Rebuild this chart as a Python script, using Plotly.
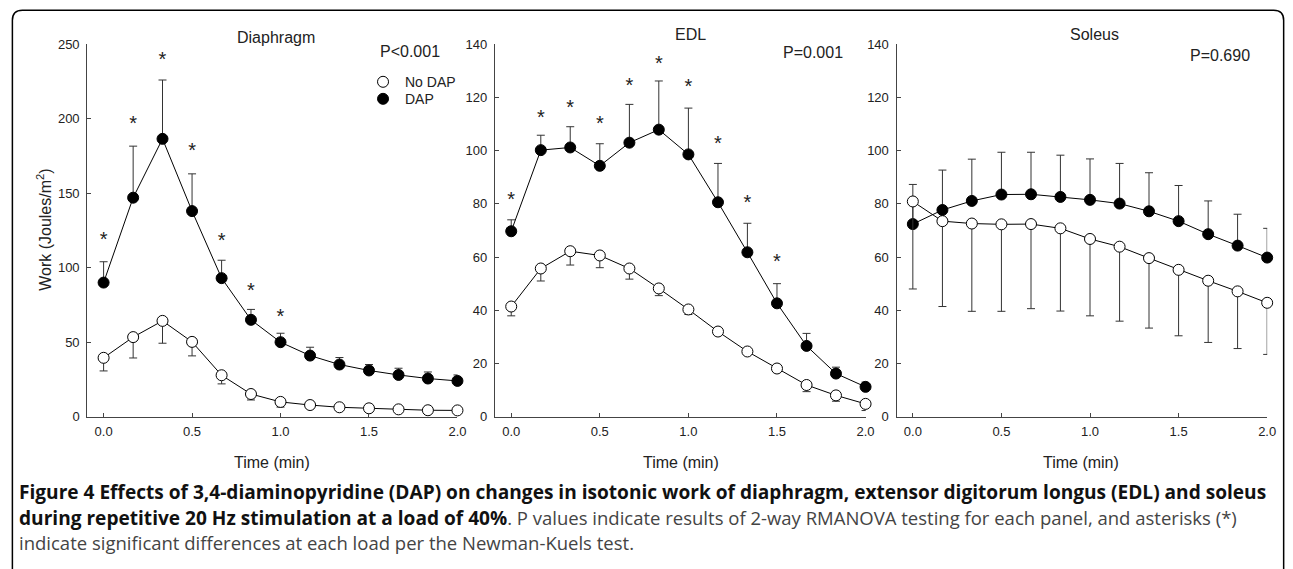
import plotly.graph_objects as go

W, H = 1293, 569

# ---------------- data ----------------
time_min = [0.0, 0.167, 0.333, 0.5, 0.667, 0.833, 1.0, 1.167, 1.333, 1.5, 1.667, 1.833, 2.0]

dia_dap = [90, 147, 186.5, 138, 93, 65, 50, 41, 35, 31, 28, 25.6, 24]
dia_dap_err = [14, 34.6, 39.5, 25, 12, 7, 6, 5.6, 4.7, 4, 4.5, 4.4, 4]
dia_nodap = [39.5, 53.4, 64.3, 50.2, 27.8, 15.2, 9.9, 7.8, 6.3, 5.6, 4.9, 4.3, 4.2]
dia_nodap_err = [8.8, 14, 15, 9.4, 5.8, 4, 3.5, 2, 1.5, 1.5, 1.2, 1, 1]
dia_star_x = [0.0, 0.167, 0.333, 0.5, 0.667, 0.833, 1.0]
dia_star_y = [118, 196, 238.5, 177.5, 117.5, 83.5, 66.5]

edl_dap = [69.7, 100.2, 101.2, 94.3, 103, 107.9, 98.6, 80.6, 61.8, 42.6, 26.6, 16.2, 11.2]
edl_dap_err = [4.3, 5.6, 7.8, 8.3, 14.4, 18.3, 17.4, 14.6, 10.9, 7.4, 4.7, 2.4, 1.8]
edl_nodap = [41.4, 55.7, 62.2, 60.6, 55.7, 48.2, 40.3, 32, 24.5, 18.1, 11.9, 8, 4.8]
edl_nodap_err = [3.5, 4.7, 5.2, 4.6, 4, 2.7, 1.9, 1, 1, 1, 2.5, 2.2, 2.5]
edl_star_x = [0.0, 0.167, 0.333, 0.5, 0.667, 0.833, 1.0, 1.167, 1.333, 1.5]
edl_star_y = [81, 112, 115.7, 109.8, 124.1, 132.1, 123.7, 102.3, 80, 57.7]

sol_dap = [72.4, 77.7, 81.1, 83.5, 83.6, 82.6, 81.5, 80.1, 77.2, 73.5, 68.6, 64.3, 59.8]
sol_dap_err = [14.9, 15, 15.7, 15.9, 15.8, 15.7, 15.4, 15.1, 14.5, 13.4, 12.5, 11.8, 11]
sol_nodap = [80.9, 73.5, 72.6, 72.3, 72.4, 70.8, 66.8, 63.9, 59.6, 55.2, 51.1, 47.1, 42.8]
sol_nodap_err = [32.9, 32.1, 33, 32.7, 31.8, 31.1, 28.9, 28, 26.3, 24.8, 23.2, 21.5, 19.4]

panel_titles = ["Diaphragm", "EDL", "Soleus"]
p_values = ["P<0.001", "P=0.001", "P=0.690"]
y_ranges = [[0, 250], [0, 140], [0, 140]]
y_ticks = [[0, 50, 100, 150, 200, 250], [0, 20, 40, 60, 80, 100, 120, 140], [0, 20, 40, 60, 80, 100, 120, 140]]
x_ticks = [0.0, 0.5, 1.0, 1.5, 2.0]
x_ticklabels = ["0.0", "0.5", "1.0", "1.5", "2.0"]
series_names = ["No DAP", "DAP"]
series_fill = ["white", "black"]

# ---------------- layout helpers ----------------
# target pixel (as seen in the final picture) -> paper coordinate,
# compensating for the small rescaling applied when the page is photographed
def px(x):
    return ((x + 1.4) / 0.994) / W

def py(y):
    return 1 - (y / 0.9726 - 8) / H

FONT = "Liberation Sans, Arial, sans-serif"
INK = "#222222"
AX = "#444444"

x_domains = [(86, 456.5), (494, 865), (896, 1267)]
y_domain = (py(417), py(45))

fig = go.Figure()

panels = [
    (dia_dap, dia_dap_err, dia_nodap, dia_nodap_err, dia_star_x, dia_star_y),
    (edl_dap, edl_dap_err, edl_nodap, edl_nodap_err, edl_star_x, edl_star_y),
    (sol_dap, sol_dap_err, sol_nodap, sol_nodap_err, [], []),
]

for i, (dap, dap_e, nod, nod_e, sx, sy) in enumerate(panels):
    xa = "x" if i == 0 else f"x{i+1}"
    ya = "y" if i == 0 else f"y{i+1}"
    zeros = [0] * len(time_min)
    fig.add_trace(go.Scatter(
        x=time_min, y=dap, xaxis=xa, yaxis=ya, mode="lines+markers",
        line=dict(color="black", width=1),
        marker=dict(symbol="circle", size=11, color="black", line=dict(color="black", width=1)),
        error_y=dict(type="data", symmetric=False, array=dap_e, arrayminus=zeros,
                     width=4, thickness=1, color="#333333"),
        showlegend=False, cliponaxis=False, name=series_names[1]))
    fig.add_trace(go.Scatter(
        x=time_min, y=nod, xaxis=xa, yaxis=ya, mode="lines+markers",
        line=dict(color="black", width=1),
        marker=dict(symbol="circle", size=11, color="white", line=dict(color="black", width=1)),
        error_y=dict(type="data", symmetric=False, array=zeros, arrayminus=nod_e,
                     width=4, thickness=1, color="#333333"),
        showlegend=False, cliponaxis=False, name=series_names[0]))
    if sx:
        fig.add_trace(go.Scatter(
            x=sx, y=sy, xaxis=xa, yaxis=ya, mode="text", text=["*"] * len(sx),
            textposition="middle center", textfont=dict(family=FONT, size=20, color="#222222"),
            showlegend=False, cliponaxis=False, hoverinfo="skip"))

axis_common = dict(showline=True, linecolor=AX, linewidth=1.2, ticks="inside", ticklen=4,
                   tickcolor=AX, tickwidth=1, showgrid=False, zeroline=False,
                   tickfont=dict(family=FONT, size=13, color=INK))

for i in range(3):
    xkey = "xaxis" if i == 0 else f"xaxis{i+1}"
    ykey = "yaxis" if i == 0 else f"yaxis{i+1}"
    xd = x_domains[i]
    fig.update_layout(**{
        xkey: dict(domain=[px(xd[0]), px(xd[1])], range=[-0.092, 2.0], anchor="y" if i == 0 else f"y{i+1}",
                   tickvals=x_ticks, ticktext=x_ticklabels, ticklabelstandoff=3, **axis_common),
        ykey: dict(domain=list(y_domain), range=y_ranges[i], anchor="x" if i == 0 else f"x{i+1}",
                   tickvals=y_ticks[i], ticklabelstandoff=4, **axis_common),
    })

annotations = []
shapes = []
title_pos = [(275, 38), (690, 35), (1094, 35)]
p_pos = [(409, 52), (812, 53), (1220, 56)]
xt_pos = [271, 680, 1081]
for i in range(3):
    annotations.append(dict(x=px(title_pos[i][0]), y=py(title_pos[i][1]), xref="paper", yref="paper",
                            text=panel_titles[i], showarrow=False, xanchor="center", yanchor="middle",
                            font=dict(family=FONT, size=16, color=INK)))
    annotations.append(dict(x=px(p_pos[i][0]), y=py(p_pos[i][1]), xref="paper", yref="paper",
                            text=p_values[i], showarrow=False, xanchor="center", yanchor="middle",
                            font=dict(family=FONT, size=16, color=INK)))
    annotations.append(dict(x=px(xt_pos[i]), y=py(463), xref="paper", yref="paper",
                            text="Time (min)", showarrow=False, xanchor="center", yanchor="middle",
                            font=dict(family=FONT, size=16, color=INK)))

annotations.append(dict(x=px(43), y=py(230), xref="paper", yref="paper", textangle=-90,
                        text="Work (Joules/m<sup>2</sup>)", showarrow=False, xanchor="center", yanchor="middle",
                        font=dict(family=FONT, size=16, color=INK)))

# manual legend (Diaphragm panel)
leg_y = [82.5, 99.5]
for name, fill, yy in zip(series_names, series_fill, leg_y):
    shapes.append(dict(type="circle", xref="paper", yref="paper", xsizemode="pixel", ysizemode="pixel",
                       xanchor=px(382), yanchor=py(yy), x0=-5.5, x1=5.5, y0=-5.5, y1=5.5,
                       fillcolor=fill, line=dict(color="black", width=1)))
    annotations.append(dict(x=px(402), y=py(yy), xref="paper", yref="paper", text=name, showarrow=False,
                            xanchor="left", yanchor="middle", font=dict(family=FONT, size=14, color=INK)))

CAP = "Open Sans, sans-serif"
B1 = "<span style='font-size:19.1px;color:#111111'><b>"
B0 = "</b></span>"
cap_lines = [
    B1 + "Figure 4 Effects of 3,4-diaminopyridine (DAP) on changes in isotonic work of diaphragm, extensor digitorum longus (EDL) and soleus" + B0,
    B1 + "during repetitive 20 Hz stimulation at a load of 40%" + B0 + ". P values indicate results of 2-way RMANOVA testing for each panel, and asterisks (*)",
    "indicate significant differences at each load per the Newman-Kuels test.",
]
cap_y = [492, 518, 543]
for t, yy in zip(cap_lines, cap_y):
    annotations.append(dict(x=px(17), y=py(yy), xref="paper", yref="paper", text=t, showarrow=False,
                            xanchor="left", yanchor="middle", align="left", borderpad=0,
                            font=dict(family=CAP, size=18.5, color="#444444")))

# rounded frame
L, R, T, B, r = 11, 1283.5, 11, 575, 10
path = (f"M {px(L)} {py(B)} L {px(L)} {py(T + r)} Q {px(L)} {py(T)} {px(L + r)} {py(T)} "
        f"L {px(R - r)} {py(T)} Q {px(R)} {py(T)} {px(R)} {py(T + r)} L {px(R)} {py(B)}")
shapes.append(dict(type="path", xref="paper", yref="paper", path=path, line=dict(color="black", width=1.5)))

fig.update_layout(
    width=W, height=H, margin=dict(l=0, r=0, t=0, b=0),
    paper_bgcolor="white", plot_bgcolor="white",
    annotations=annotations,
    shapes=shapes,
    showlegend=False,
)

fig.write_html("out.html", config={"displayModeBar": False},
               post_script="document.body.style.margin='0';")
